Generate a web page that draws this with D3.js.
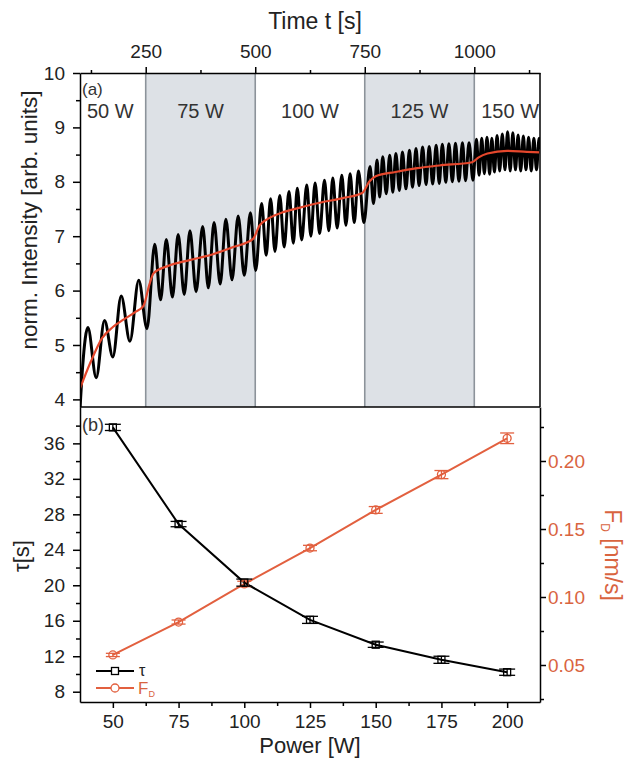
<!DOCTYPE html>
<html>
<head>
<meta charset="utf-8">
<script src="https://cdn.jsdelivr.net/npm/d3@7"></script>
<style>
  body { margin: 0; background: #fff; }
  svg { font-family: "Liberation Sans", Arial, sans-serif; }
  .axis path, .axis line { stroke: #000; stroke-width: 1.5; }
  .axis text { font-size: 19px; fill: #222; }
</style>
</head>
<body>
<div id="chart"></div>
<script>
// ---- panel (a): time trace ----
var timeTicks = [250, 500, 750, 1000];
var timeMinor = [125, 375, 625, 875, 1125];
var bandEdges = [100, 250, 500, 750, 1000, 1150];
var bandLabels = ["50 W", "75 W", "100 W", "125 W", "150 W"];
var shadedBands = [[250, 500], [750, 1000]];

var signalT = [100, 106, 118, 137, 156, 175, 194, 214, 234, 253,
  270.6, 284, 297, 311, 324, 338, 351, 365, 380, 393, 406, 420, 433, 447, 461, 475, 489, 501,
  514.6, 525, 535, 545, 556, 566, 577, 587, 596, 606, 617.6, 627, 636.6, 647, 658, 668, 677, 687, 697.6, 707, 716.6, 726, 735.6, 748,
  762, 770, 778, 784, 791, 799, 807, 814, 821, 829, 836, 844, 852, 859, 867, 874, 882, 890, 897, 905, 913, 920, 927, 935, 942, 950, 957, 965, 973, 980, 988, 997,
  1005, 1011, 1017, 1023, 1029, 1035, 1040, 1046, 1052, 1058, 1064, 1070, 1076, 1082, 1088, 1094, 1100, 1106, 1112, 1118, 1124, 1130, 1136, 1142, 1148, 1150];
var signalI = [3.82, 4.6, 5.32, 4.4, 5.45, 4.78, 5.9, 5.07, 6.19, 5.3,
  6.85, 5.83, 6.94, 5.88, 7.03, 5.93, 7.1, 5.98, 7.18, 6.05, 7.25, 6.12, 7.31, 6.2, 7.37, 6.28, 7.43, 6.37,
  7.6, 6.65, 7.69, 6.72, 7.75, 6.8, 7.82, 6.87, 7.88, 6.93, 7.94, 7.0, 7.98, 7.05, 8.03, 7.1, 8.07, 7.15, 8.12, 7.2, 8.15, 7.25, 8.2, 7.25,
  8.28, 7.6, 8.4, 7.72, 8.46, 7.78, 8.49, 7.81, 8.52, 7.84, 8.55, 7.87, 8.58, 7.9, 8.61, 7.93, 8.64, 7.95, 8.65, 7.96, 8.67, 7.97, 8.69, 7.99, 8.7, 8.0, 8.71, 8.01, 8.72, 8.02, 8.72, 8.03,
  8.78, 8.12, 8.8, 8.15, 8.82, 8.14, 8.8, 8.18, 8.85, 8.2, 8.88, 8.22, 8.92, 8.2, 8.9, 8.22, 8.86, 8.2, 8.84, 8.22, 8.82, 8.2, 8.8, 8.22, 8.8, 8.6];

// smoothed (red) trend
var fitT = [100, 125, 150, 175, 200, 225, 245, 258, 268, 300, 350, 400, 450, 495, 510, 525, 560, 600, 650, 700, 745, 760, 775, 820, 870, 920, 995, 1010, 1030, 1075, 1120, 1150];
var fitI = [4.2, 4.7, 5.12, 5.33, 5.47, 5.6, 5.72, 6.1, 6.32, 6.45, 6.56, 6.66, 6.8, 6.95, 7.2, 7.3, 7.43, 7.52, 7.62, 7.7, 7.8, 8.0, 8.1, 8.18, 8.25, 8.3, 8.36, 8.45, 8.52, 8.57, 8.55, 8.54];

// ---- panel (b): tau and F_D vs power ----
var power = [50, 75, 100, 125, 150, 175, 200];
var tau = [37.8, 26.9, 20.3, 16.1, 13.3, 11.6, 10.2];
var tauErr = [0.35, 0.3, 0.4, 0.4, 0.3, 0.4, 0.35];
var fd = [0.0574, 0.0816, 0.1096, 0.136, 0.164, 0.19, 0.2167];
var fdErr = [0.0012, 0.0015, 0.002, 0.002, 0.0025, 0.003, 0.0039];

var powerTicks = [50, 75, 100, 125, 150, 175, 200];
var powerMinor = [62.5, 87.5, 112.5, 137.5, 162.5, 187.5];
var intTicks = [4, 5, 6, 7, 8, 9, 10];
var intMinor = [4.5, 5.5, 6.5, 7.5, 8.5, 9.5];
var tauTicks = [8, 12, 16, 20, 24, 28, 32, 36];
var tauMinor = [10, 14, 18, 22, 26, 30, 34, 38];
var fdTicks = [0.05, 0.10, 0.15, 0.20];
var fdMinor = [0.025, 0.075, 0.125, 0.175, 0.225];

var W = 631, H = 759;
var plotL = 80, plotR = 540, plotT = 73, plotM = 407, plotB = 702;
var red = "#e5472c", orange = "#e2603f", orangeText = "#d9643f";

var svg = d3.select("#chart").append("svg")
    .attr("width", W).attr("height", H);

// scales
var xT = d3.scaleLinear().domain([100, 1150]).range([plotL, plotR]);
var yI = d3.scaleLinear().domain([3.86, 10]).range([plotM, plotT]);
var xP = d3.scaleLinear().domain([37.5, 212.5]).range([plotL, plotR]);
var yTau = d3.scaleLinear().domain([6.84, 40.1]).range([plotB, plotM]);
var yFd = d3.scaleLinear().domain([0.0228, 0.2397]).range([plotB, plotM]);

// ===== top panel =====
svg.append("clipPath").attr("id", "clipA").append("rect")
    .attr("x", plotL).attr("y", plotT).attr("width", plotR - plotL).attr("height", plotM - plotT);

svg.selectAll(".band").data(shadedBands).enter().append("rect")
    .attr("x", d => xT(d[0])).attr("y", plotT)
    .attr("width", d => xT(d[1]) - xT(d[0])).attr("height", plotM - plotT)
    .style("fill", "#dde1e6");

svg.selectAll(".bandLine").data(timeTicks).enter().append("line")
    .attr("x1", d => xT(d)).attr("x2", d => xT(d))
    .attr("y1", plotT).attr("y2", plotM)
    .style("stroke", "#8c939a").style("stroke-width", 1.6);

var sig = signalT.map((t, i) => [t, signalI[i]]);
var fit = fitT.map((t, i) => [t, fitI[i]]);

svg.append("path").datum(sig)
    .attr("clip-path", "url(#clipA)")
    .attr("d", d3.line().x(d => xT(d[0])).y(d => yI(d[1])).curve(d3.curveMonotoneX))
    .style("fill", "none").style("stroke", "#000").style("stroke-width", 3);

svg.append("path").datum(fit)
    .attr("clip-path", "url(#clipA)")
    .attr("d", d3.line().x(d => xT(d[0])).y(d => yI(d[1])).curve(d3.curveMonotoneX))
    .style("fill", "none").style("stroke", red).style("stroke-width", 2.2);

// power labels in each band
svg.selectAll(".bandLabel").data(bandLabels).enter().append("text")
    .attr("x", (d, i) => i == 0 ? xT(bandEdges[0]) + 7 : (xT(bandEdges[i]) + xT(bandEdges[i + 1])) / 2 + (i == 4 ? 3 : 0))
    .attr("y", 118)
    .attr("text-anchor", (d, i) => i == 0 ? "start" : "middle")
    .style("font-size", "20px").style("fill", "#333")
    .text(d => d);

svg.append("text").attr("x", 82).attr("y", 95)
    .style("font-size", "17px").style("fill", "#333").text("(a)");

// axes of the top panel
svg.append("g").attr("class", "axis")
    .attr("transform", `translate(${plotL},0)`)
    .call(d3.axisLeft(yI).tickValues(intTicks).tickSize(7).tickPadding(8).tickFormat(d3.format("d")).tickSizeOuter(0));
svg.append("g").attr("class", "axis")
    .attr("transform", `translate(${plotL},0)`)
    .call(d3.axisLeft(yI).tickValues(intMinor).tickSize(4).tickFormat("").tickSizeOuter(0))
    .select(".domain").remove();

svg.append("g").attr("class", "axis")
    .attr("transform", `translate(0,${plotT})`)
    .call(d3.axisTop(xT).tickValues(timeTicks).tickSize(6).tickPadding(9).tickFormat(d3.format("d")).tickSizeOuter(0));
svg.append("g").attr("class", "axis")
    .attr("transform", `translate(0,${plotT})`)
    .call(d3.axisTop(xT).tickValues(timeMinor).tickSize(3).tickFormat("").tickSizeOuter(0))
    .select(".domain").remove();

// right border of the top panel
svg.append("line").attr("x1", plotR).attr("x2", plotR).attr("y1", plotT).attr("y2", plotM)
    .style("stroke", "#000").style("stroke-width", 1.5);

svg.append("text").attr("x", 315).attr("y", 29)
    .attr("text-anchor", "middle").style("font-size", "23px").style("fill", "#222")
    .text("Time t [s]");

svg.append("text")
    .attr("transform", "translate(37,220) rotate(-90)")
    .attr("text-anchor", "middle").style("font-size", "22.5px").style("fill", "#222")
    .text("norm. Intensity [arb. units]");

// ===== bottom panel =====
svg.append("line").attr("x1", plotL).attr("x2", plotR).attr("y1", plotM).attr("y2", plotM)
    .style("stroke", "#000").style("stroke-width", 1.5);

var tauLine = d3.line().x((d, i) => xP(power[i])).y(d => yTau(d));
var fdLine = d3.line().x((d, i) => xP(power[i])).y(d => yFd(d));

svg.append("path").datum(fd).attr("d", fdLine)
    .style("fill", "none").style("stroke", orange).style("stroke-width", 2);
svg.append("path").datum(tau).attr("d", tauLine)
    .style("fill", "none").style("stroke", "#000").style("stroke-width", 2);

// error bars
function errorBars(vals, errs, scale, color, capW) {
    var g = svg.append("g").style("stroke", color).style("stroke-width", 1.3);
    vals.forEach(function (v, i) {
        var x = xP(power[i]), y1 = scale(v - errs[i]), y2 = scale(v + errs[i]);
        g.append("line").attr("x1", x).attr("x2", x).attr("y1", y1).attr("y2", y2);
        g.append("line").attr("x1", x - capW).attr("x2", x + capW).attr("y1", y1).attr("y2", y1);
        g.append("line").attr("x1", x - capW).attr("x2", x + capW).attr("y1", y2).attr("y2", y2);
    });
}
errorBars(fd, fdErr, yFd, orange, 7);
errorBars(tau, tauErr, yTau, "#000", 8);

svg.selectAll(".fdPt").data(fd).enter().append("circle")
    .attr("cx", (d, i) => xP(power[i])).attr("cy", d => yFd(d)).attr("r", 4)
    .style("fill", "none").style("stroke", orange).style("stroke-width", 1.3);
svg.selectAll(".tauPt").data(tau).enter().append("rect")
    .attr("x", (d, i) => xP(power[i]) - 3.5).attr("y", d => yTau(d) - 3.5)
    .attr("width", 7).attr("height", 7)
    .style("fill", "none").style("stroke", "#000").style("stroke-width", 1.3);

svg.append("text").attr("x", 82).attr("y", 431)
    .style("font-size", "18px").style("fill", "#333").text("(b)");

// legend
var legend = svg.append("g");
legend.append("line").attr("x1", 96).attr("x2", 134).attr("y1", 671).attr("y2", 671)
    .style("stroke", "#000").style("stroke-width", 2);
legend.append("rect").attr("x", 111.5).attr("y", 667.5).attr("width", 7).attr("height", 7)
    .style("fill", "#fff").style("stroke", "#000").style("stroke-width", 1.3);
legend.append("text").attr("x", 139).attr("y", 676).style("font-size", "16px").style("fill", "#222").text("τ");
legend.append("line").attr("x1", 96).attr("x2", 134).attr("y1", 688).attr("y2", 688)
    .style("stroke", orange).style("stroke-width", 2);
legend.append("circle").attr("cx", 115).attr("cy", 688).attr("r", 4)
    .style("fill", "#fff").style("stroke", orange).style("stroke-width", 1.3);
var fdLeg = legend.append("text").attr("x", 138).attr("y", 694)
    .style("font-size", "17px").style("fill", orangeText);
fdLeg.append("tspan").text("F");
fdLeg.append("tspan").attr("dy", 3).style("font-size", "9px").text("D");

// axes of the bottom panel
svg.append("g").attr("class", "axis")
    .attr("transform", `translate(${plotL},0)`)
    .call(d3.axisLeft(yTau).tickValues(tauTicks).tickSize(7).tickPadding(8).tickSizeOuter(0));
svg.append("g").attr("class", "axis")
    .attr("transform", `translate(${plotL},0)`)
    .call(d3.axisLeft(yTau).tickValues(tauMinor).tickSize(4).tickFormat("").tickSizeOuter(0))
    .select(".domain").remove();

var fdAxis = svg.append("g").attr("class", "axis")
    .attr("transform", `translate(${plotR},0)`)
    .call(d3.axisRight(yFd).tickValues(fdTicks).tickSize(6).tickPadding(2).tickFormat(d3.format(".2f")).tickSizeOuter(0));
fdAxis.selectAll("text").style("fill", orangeText);
svg.append("g").attr("class", "axis")
    .attr("transform", `translate(${plotR},0)`)
    .call(d3.axisRight(yFd).tickValues(fdMinor).tickSize(4).tickFormat("").tickSizeOuter(0))
    .select(".domain").remove();

svg.append("g").attr("class", "axis")
    .attr("transform", `translate(0,${plotB})`)
    .call(d3.axisBottom(xP).tickValues(powerTicks).tickSize(6).tickPadding(7).tickSizeOuter(0));
svg.append("g").attr("class", "axis")
    .attr("transform", `translate(0,${plotB})`)
    .call(d3.axisBottom(xP).tickValues(powerMinor).tickSize(4).tickFormat("").tickSizeOuter(0))
    .select(".domain").remove();

svg.append("text").attr("x", 310).attr("y", 753)
    .attr("text-anchor", "middle").style("font-size", "22px").style("fill", "#222")
    .text("Power [W]");

svg.append("text")
    .attr("transform", "translate(29,556) rotate(-90)")
    .attr("text-anchor", "middle").style("font-size", "22px").style("fill", "#222")
    .text("τ[s]");

var fdTitle = svg.append("text")
    .attr("transform", "translate(605,555) rotate(90)")
    .attr("text-anchor", "middle").style("font-size", "23px").style("fill", orangeText);
fdTitle.append("tspan").text("F");
fdTitle.append("tspan").attr("dy", 4).style("font-size", "12px").text("D");
fdTitle.append("tspan").attr("dy", -4).text(" [nm/s]");
</script>
</body>
</html>
